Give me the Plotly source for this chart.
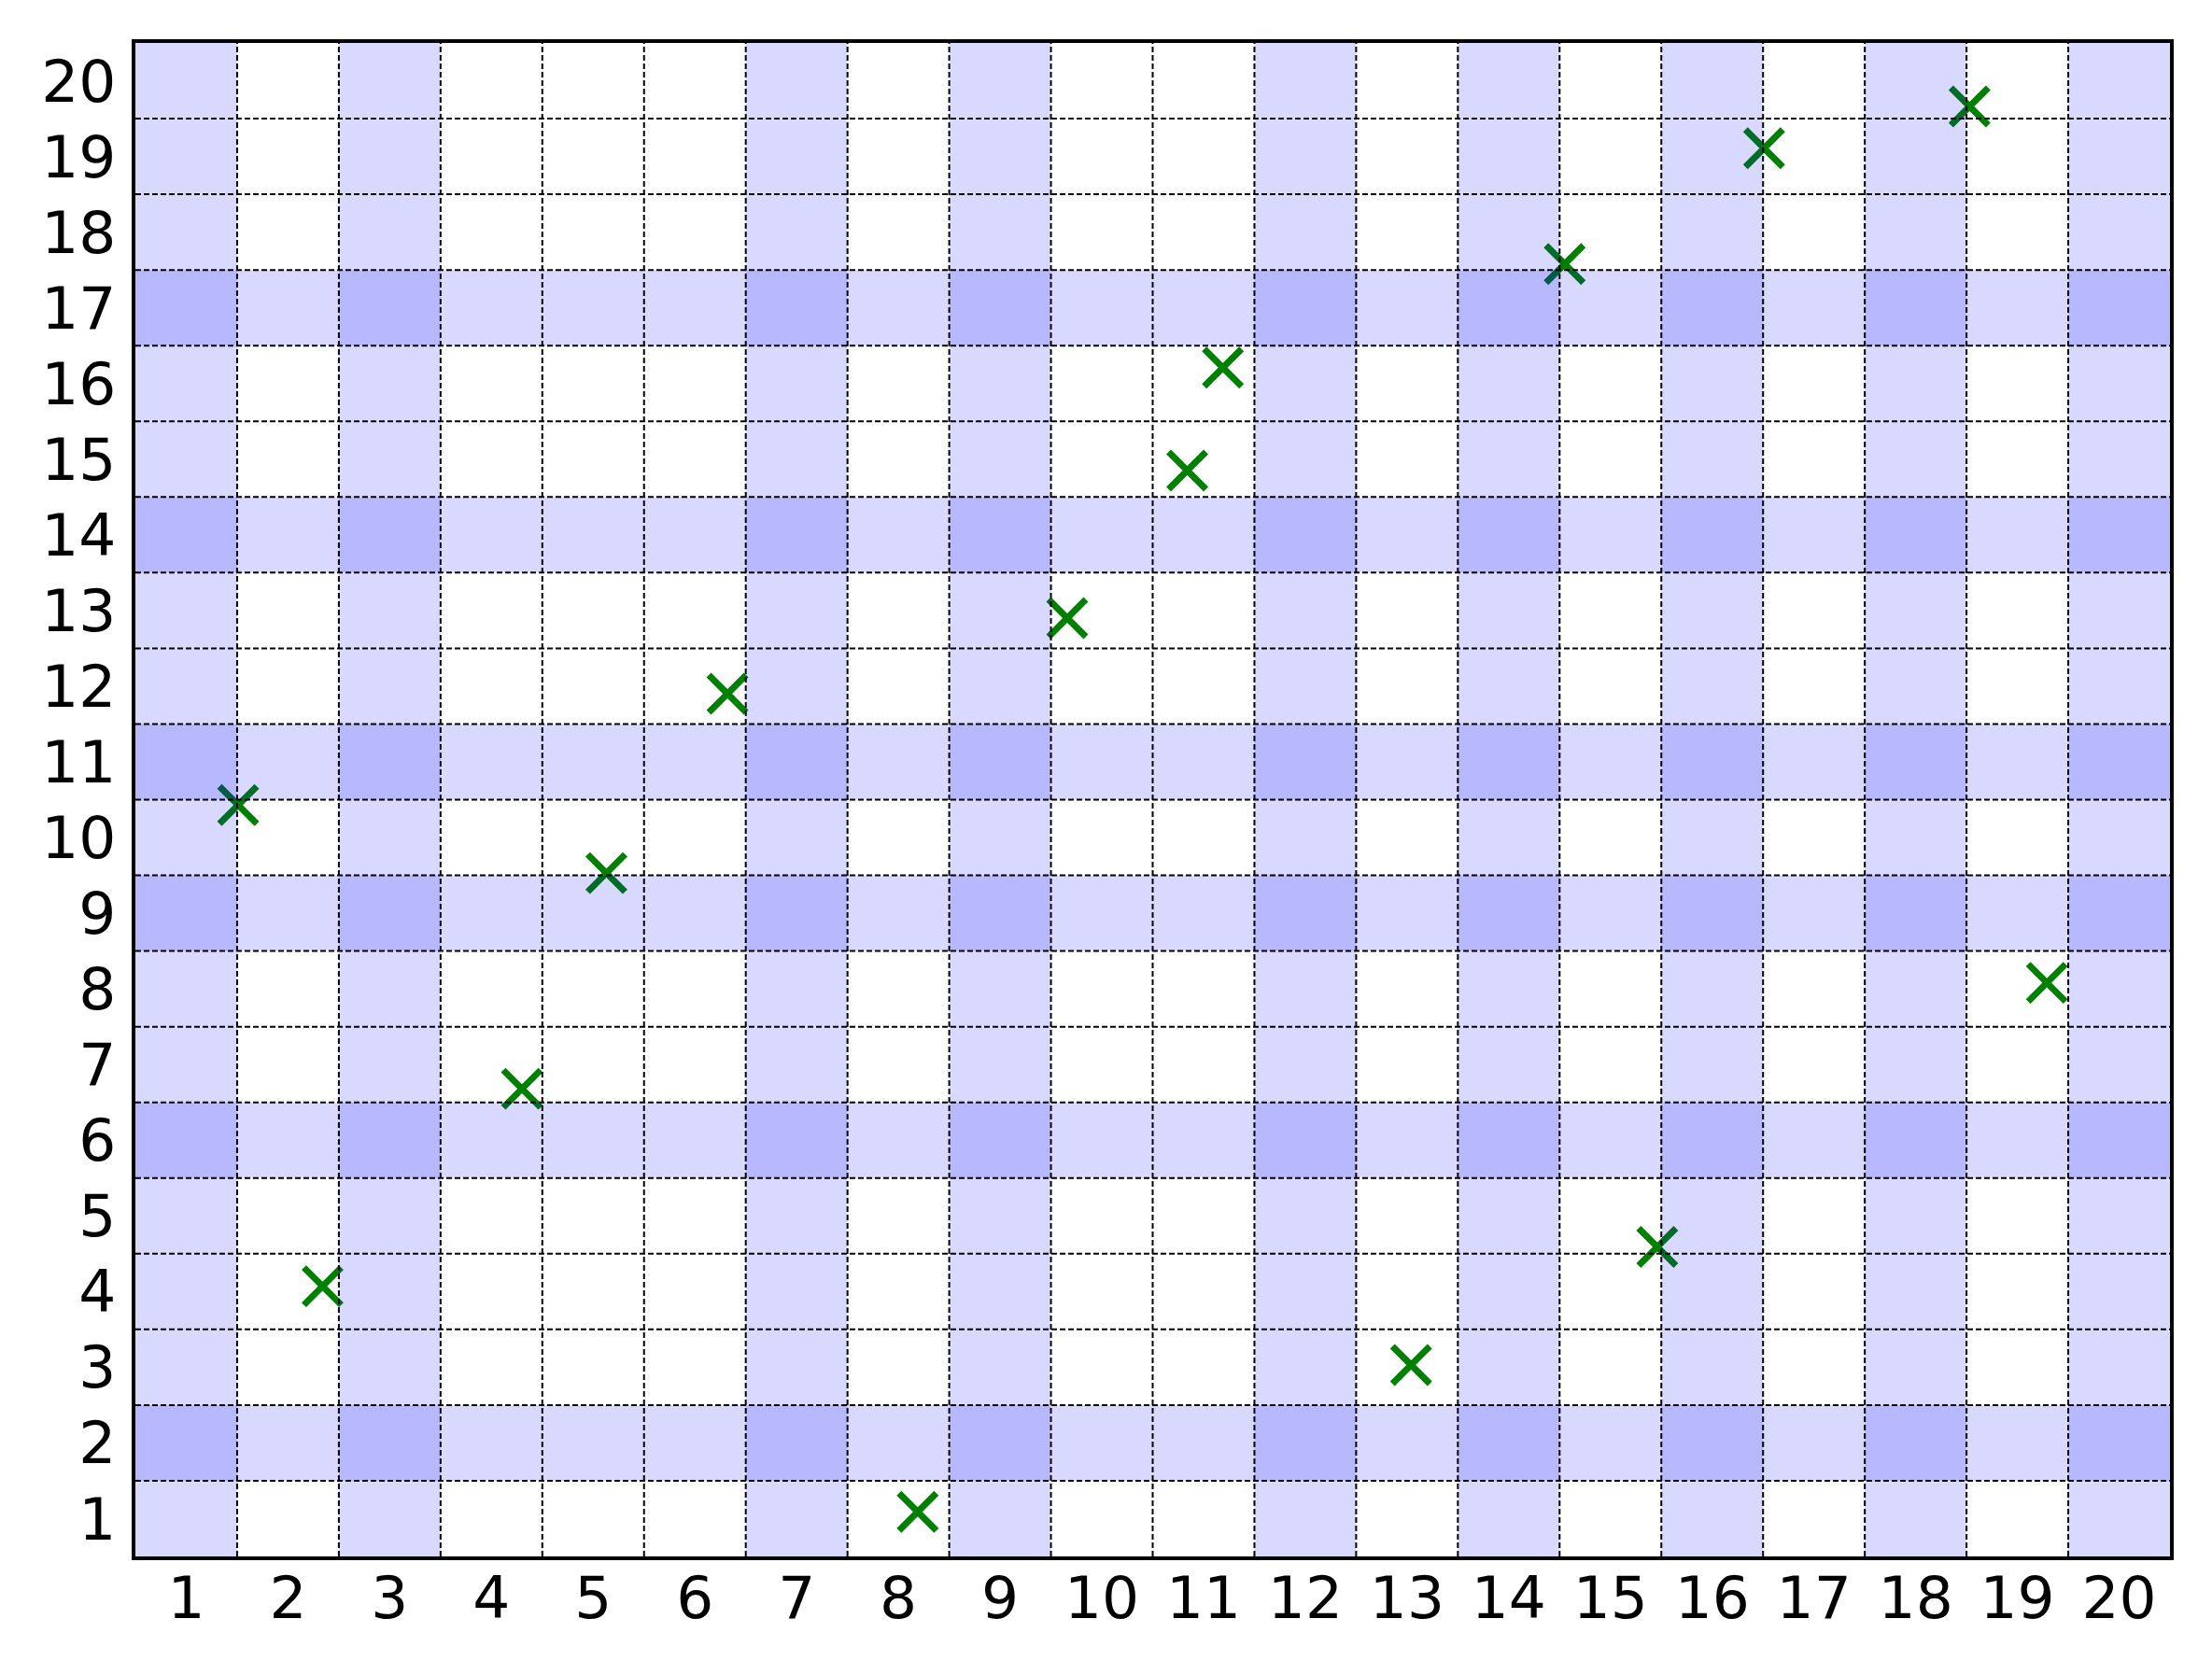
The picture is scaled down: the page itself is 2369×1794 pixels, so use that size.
import plotly.graph_objects as go

# Data
x_ticks = list(range(1, 21))
y_ticks = list(range(1, 21))
shaded_cols = [1, 3, 7, 9, 12, 14, 16, 18, 20]
shaded_rows = [2, 6, 9, 11, 14, 17]
pts_x = [1.51, 2.34, 4.30, 5.13, 6.32, 8.19, 9.66, 10.84, 11.19, 13.04, 14.55, 15.46, 16.51, 18.53, 19.29]
pts_y = [10.43, 4.07, 6.68, 9.53, 11.90, 1.09, 12.90, 14.85, 16.21, 3.03, 17.58, 4.59, 19.11, 19.66, 8.08]

lo, hi = 0.5, 20.5

fig = go.Figure()
fig.add_trace(go.Scatter(
    x=pts_x, y=pts_y, mode="markers",
    marker=dict(symbol="x-thin", size=40, color="#008000",
                line=dict(color="#008000", width=7)),
    showlegend=False, hoverinfo="skip",
))

shapes = []
band_fill = "rgba(0,0,255,0.15)"
for c in shaded_cols:
    shapes.append(dict(type="rect", xref="x", yref="y", x0=c - 0.5, x1=c + 0.5,
                       y0=lo, y1=hi, fillcolor=band_fill, line=dict(width=0), layer="above"))
for r in shaded_rows:
    shapes.append(dict(type="rect", xref="x", yref="y", x0=lo, x1=hi,
                       y0=r - 0.5, y1=r + 0.5, fillcolor=band_fill, line=dict(width=0), layer="above"))
for v in x_ticks[:-1]:
    shapes.append(dict(type="line", xref="x", yref="y", x0=v + 0.5, x1=v + 0.5, y0=lo, y1=hi,
                       line=dict(color="black", width=2, dash="6px,3px"), layer="above"))
for v in y_ticks[:-1]:
    shapes.append(dict(type="line", xref="x", yref="y", x0=lo, x1=hi, y0=v + 0.5, y1=v + 0.5,
                       line=dict(color="black", width=2, dash="6px,3px"), layer="above"))

axis_common = dict(
    range=[lo, hi], showgrid=False, zeroline=False,
    showline=True, linecolor="black", linewidth=4, mirror=True,
    ticks="", tickfont=dict(family="DejaVu Sans", size=63, color="black"),
)
fig.update_layout(
    width=2361, height=1786,
    margin=dict(l=137, r=45, t=38, b=127),
    paper_bgcolor="white", plot_bgcolor="white",
    shapes=shapes,
    xaxis=dict(tickvals=x_ticks, ticktext=[str(v) for v in x_ticks],
               ticklabelstandoff=-14, **axis_common),
    yaxis=dict(tickvals=y_ticks, ticktext=[str(v) for v in y_ticks],
               ticklabelstandoff=4, **axis_common),
)
fig.write_html("out.html")
